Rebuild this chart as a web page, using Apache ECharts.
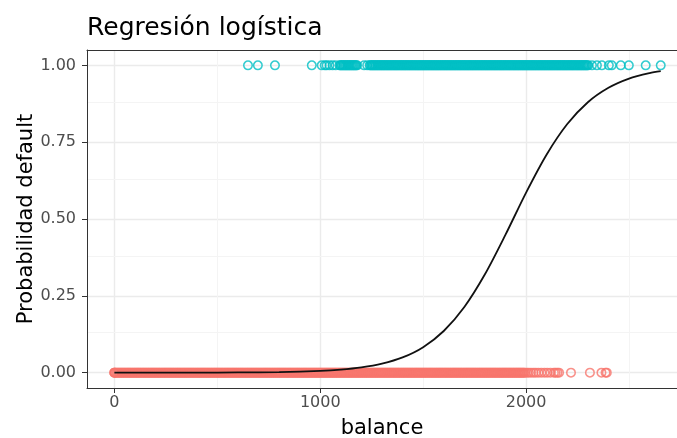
<!DOCTYPE html>
<html><head><meta charset="utf-8">
<script src="https://cdn.jsdelivr.net/npm/echarts@6/dist/echarts.min.js"></script>
<style>html,body{margin:0;padding:0;background:#fff}#c{width:677px;height:438px}</style>
</head><body><div id="c"></div>
<script>
// ---- data ----
const xTicks = [0, 1000, 2000];
const xMinor = [500, 1500, 2500];
const yTicks = [0, 0.25, 0.5, 0.75, 1];
const yMinor = [0.125, 0.375, 0.625, 0.875];

// balance of clients with default = "No" (plotted at 0), two overlapping samples
const balanceNo = [0,0,0,6,15,24,33,42,51,60,69,78,87,96,105,114,123,132,141,150,159,168,177,186,195,204,213,222,231,240,249,258,267,276,285,294,303,312,321,330,339,348,357,366,375,384,393,402,411,420,429,438,447,456,465,474,483,492,501,510,519,528,537,546,555,564,573,582,591,600,609,618,627,636,645,654,663,672,681,690,699,708,717,726,735,744,753,762,771,780,789,798,807,816,825,834,843,852,861,870,879,888,897,906,915,924,933,942,951,960,969,978,987,996,1005,1014,1023,1032,1041,1050,1059,1068,1077,1086,1095,1104,1113,1122,1131,1140,1149,1158,1167,1176,1185,1194,1203,1212,1221,1230,1239,1248,1257,1266,1275,1284,1293,1302,1311,1320,1329,1338,1347,1356,1365,1374,1383,1392,1401,1410,1419,1428,1437,1446,1455,1464,1473,1482,1491,1500,1509,1518,1527,1536,1545,1554,1563,1572,1581,1590,1599,1608,1617,1626,1635,1644,1653,1662,1671,1680,1689,1698,1707,1716,1725,1734,1743,1752,1761,1770,1779,1788,1797,1806,1815,1824,1833,1842,1851,1860,1869,1878,1887,1896,1905,1914,1923,1932,1941,1950,1959,1968,1977,1986,1995,2004,2013,2024,2036,2047,2060,2074,2089,2103,2118,2135,2143,2152,2160,2218,2310,2366,2386,2392];
const balanceNoB = [10,19,28,37,46,55,64,73,82,91,100,109,118,127,136,145,154,163,172,181,190,199,208,217,226,235,244,253,262,271,280,289,298,307,316,325,334,343,352,361,370,379,388,397,406,415,424,433,442,451,460,469,478,487,496,505,514,523,532,541,550,559,568,577,586,595,604,613,622,631,640,649,658,667,676,685,694,703,712,721,730,739,748,757,766,775,784,793,802,811,820,829,838,847,856,865,874,883,892,901,910,919,928,937,946,955,964,973,982,991,1000,1009,1018,1027,1036,1045,1054,1063,1072,1081,1090,1099,1108,1117,1126,1135,1144,1153,1162,1171,1180,1189,1198,1207,1216,1225,1234,1243,1252,1261,1270,1279,1288,1297,1306,1315,1324,1333,1342,1351,1360,1369,1378,1387,1396,1405,1414,1423,1432,1441,1450,1459,1468,1477,1486,1495,1504,1513,1522,1531,1540,1549,1558,1567,1576,1585,1594,1603,1612,1621,1630,1639,1648,1657,1666,1675,1684,1693,1702,1711,1720,1729,1738,1747,1756,1765,1774,1783,1792,1801,1810,1819,1828,1837,1846,1855,1864,1873,1882,1891,1900,1909,1918,1927,1936,1945,1954,1963,1972,1981,1990];

// balance of clients with default = "Yes" (plotted at 1), two overlapping samples
const balanceYes = [649,697,780,959,1007,1022,1031,1045,1060,1075,1094,1103,1112,1121,1130,1139,1148,1157,1166,1175,1213,1228,1240,1249,1258,1267,1276,1285,1294,1303,1312,1321,1330,1339,1348,1357,1366,1375,1384,1393,1402,1411,1420,1429,1438,1447,1456,1465,1474,1483,1492,1501,1510,1519,1528,1537,1546,1555,1564,1573,1582,1591,1600,1609,1618,1627,1636,1645,1654,1663,1672,1681,1690,1699,1708,1717,1726,1735,1744,1753,1762,1771,1780,1789,1798,1807,1816,1825,1834,1843,1852,1861,1870,1879,1888,1897,1906,1915,1924,1933,1942,1951,1960,1969,1978,1987,1996,2005,2014,2023,2032,2041,2050,2059,2068,2077,2086,2095,2104,2113,2122,2131,2140,2149,2158,2167,2176,2185,2194,2203,2212,2221,2230,2239,2248,2257,2266,2275,2284,2293,2302,2320,2344,2368,2402,2416,2460,2499,2581,2654];
const balanceYesB = [1098,1107,1116,1125,1134,1143,1152,1161,1170,1179,1244,1253,1262,1271,1280,1289,1298,1307,1316,1325,1334,1343,1352,1361,1370,1379,1388,1397,1406,1415,1424,1433,1442,1451,1460,1469,1478,1487,1496,1505,1514,1523,1532,1541,1550,1559,1568,1577,1586,1595,1604,1613,1622,1631,1640,1649,1658,1667,1676,1685,1694,1703,1712,1721,1730,1739,1748,1757,1766,1775,1784,1793,1802,1811,1820,1829,1838,1847,1856,1865,1874,1883,1892,1901,1910,1919,1928,1937,1946,1955,1964,1973,1982,1991,2000,2009,2018,2027,2036,2045,2054,2063,2072,2081,2090,2099,2108,2117,2126,2135,2144,2153,2162,2171,2180,2189,2198,2207,2216,2225,2234,2243,2252,2261,2270,2279,2288,2297];

// fitted probability curve
const curveX = [0,200,400,600,800,1000,1100,1200,1300,1400,1500,1600,1700,1800,1900,2000,2100,2200,2300,2400,2500,2600,2654];
const curveY = [0.00002,0.00007,0.0002,0.0006,0.0019,0.0058,0.0099,0.0171,0.0293,0.0496,0.083,0.1355,0.2136,0.32,0.449,0.586,0.710,0.809,0.880,0.927,0.957,0.975,0.981];

// ---- chart ----
const FONT = 'DejaVu Sans';
const noPts = balanceNo.concat(balanceNoB).map(v => [v, 0]);
const yesPts = balanceYes.concat(balanceYesB).map(v => [v, 1]);
const curve = curveX.map((v, i) => [v, curveY[i]]);

const minorLines = xMinor.map(v => ({xAxis: v})).concat(yMinor.map(v => ({yAxis: v})));

const chart = echarts.init(document.getElementById('c'), null, {renderer: 'canvas'});
chart.setOption({
  animation: false,
  backgroundColor: '#fff',
  title: {
    text: 'Regresión logística', left: 82, top: 11,
    textStyle: {fontFamily: FONT, fontSize: 25, fontWeight: 'normal', color: '#000'}
  },
  grid: {left: 87, right: 0, top: 50, bottom: 50, containLabel: false, outerBoundsMode: 'none'},
  xAxis: [{
    type: 'value', min: -133, max: 2733,
    name: 'balance', nameLocation: 'middle', nameGap: 30, nameMoveOverlap: false,
    nameTextStyle: {fontFamily: FONT, fontSize: 21, color: '#000'},
    axisLine: {show: true, onZero: false, lineStyle: {color: '#333', width: 1}},
    axisTick: {show: true, length: 5, customValues: xTicks, lineStyle: {color: '#333'}},
    axisLabel: {customValues: xTicks, margin: 7, fontFamily: FONT, fontSize: 16, color: '#4d4d4d', formatter: v => String(v)},
    splitLine: {show: true, lineStyle: {color: '#ebebeb', width: 1.4}}
  }, {
    type: 'value', position: 'top', min: -133, max: 2733,
    axisLine: {show: true, onZero: false, lineStyle: {color: '#333', width: 1}},
    axisTick: {show: false}, axisLabel: {show: false}, splitLine: {show: false}
  }],
  yAxis: {
    type: 'value', min: -0.05, max: 1.05,
    name: 'Probabilidad default', nameLocation: 'middle', nameGap: 50, nameMoveOverlap: false,
    nameTextStyle: {fontFamily: FONT, fontSize: 21, color: '#000'},
    axisLine: {show: true, onZero: false, lineStyle: {color: '#333', width: 1}},
    axisTick: {show: true, length: 5, customValues: yTicks, lineStyle: {color: '#333'}},
    axisLabel: {customValues: yTicks, margin: 11, fontFamily: FONT, fontSize: 16, color: '#4d4d4d', formatter: v => v.toFixed(2)},
    splitLine: {show: true, lineStyle: {color: '#ebebeb', width: 1.4}}
  },
  series: [{
    type: 'line', data: [], z: 0, silent: true,
    markLine: {silent: true, z: 0, symbol: 'none', label: {show: false},
      lineStyle: {color: '#f4f4f4', width: 1, type: 'solid'}, data: minorLines}
  }, {
    name: 'No', type: 'scatter', data: noPts, z: 2, symbol: 'circle', symbolSize: 8.5,
    itemStyle: {color: 'rgba(0,0,0,0)', borderColor: '#F8766D', borderWidth: 1.5}
  }, {
    name: 'Yes', type: 'scatter', data: yesPts, z: 2, symbol: 'circle', symbolSize: 8.5,
    itemStyle: {color: 'rgba(0,0,0,0)', borderColor: '#00BFC4', borderWidth: 1.5}
  }, {
    type: 'line', data: curve, z: 3, smooth: 0.3, showSymbol: false, symbol: 'none',
    lineStyle: {color: '#111', width: 1.8}
  }]
});
</script></body></html>
